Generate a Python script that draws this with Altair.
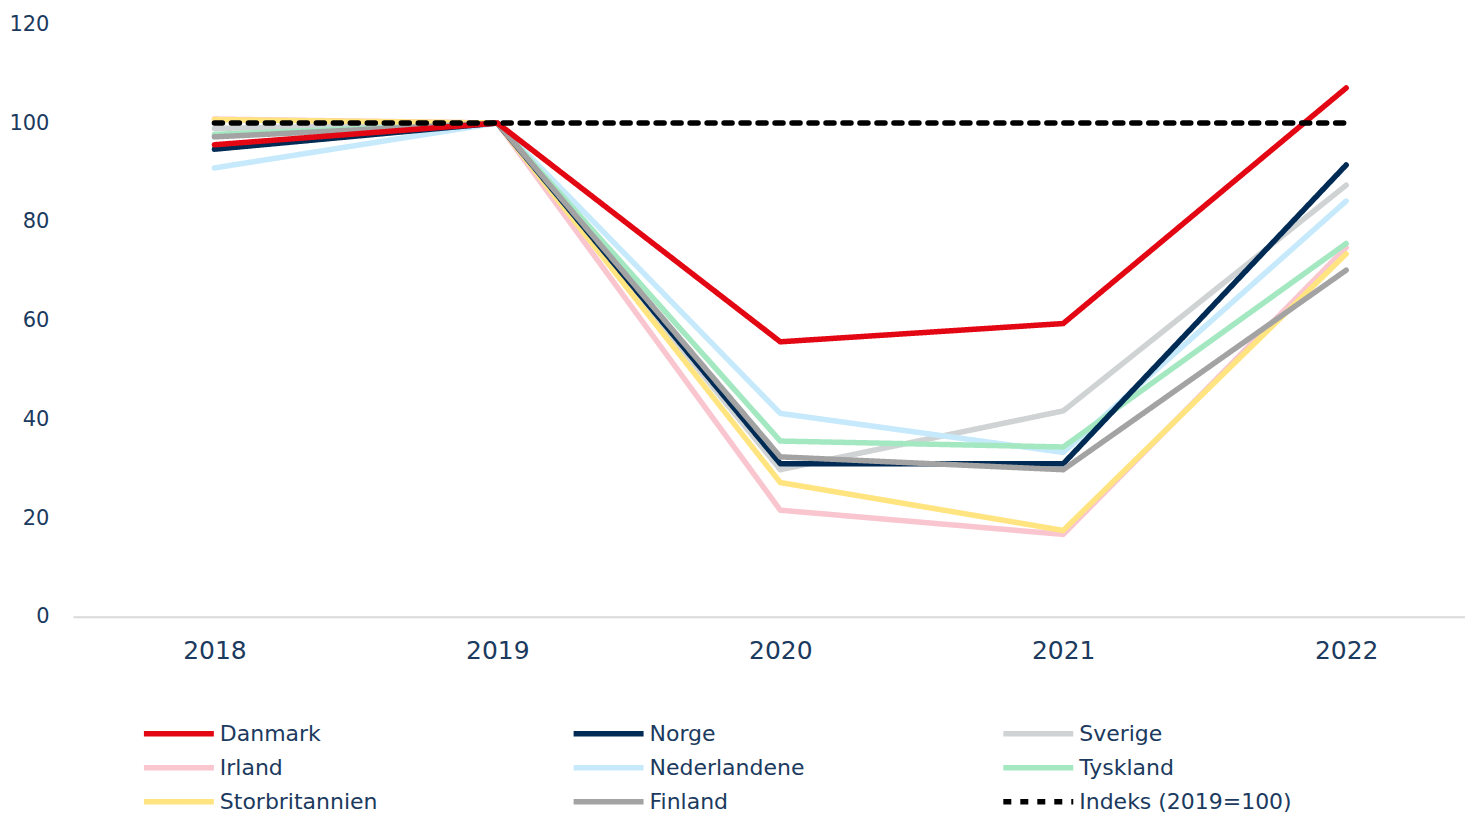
import altair as alt
import pandas as pd

years = [2018, 2019, 2020, 2021, 2022]
# legend is laid out column by column: this order gives rows
# Danmark/Norge/Sverige, Irland/Nederlandene/Tyskland, Storbritannien/Finland/Indeks
countries = ["Danmark", "Irland", "Storbritannien", "Norge", "Nederlandene",
             "Finland", "Sverige", "Tyskland", "Indeks (2019=100)"]
colors = ["#e30613", "#f9c6cf", "#ffe480", "#002b55", "#c6eafb",
          "#a3a3a3", "#d0d3d4", "#a4e8c2", "#000000"]
draw_order = ["Sverige", "Irland", "Nederlandene", "Tyskland", "Storbritannien",
              "Norge", "Finland", "Danmark", "Indeks (2019=100)"]

danmark = [95.6, 100, 55.7, 59.4, 107.1]
norge = [94.7, 100, 31.0, 31.0, 91.5]
sverige = [98.9, 100, 29.8, 41.7, 87.4]
irland = [100.8, 100, 21.6, 16.7, 74.8]
nederlandene = [90.9, 100, 41.2, 33.3, 84.2]
tyskland = [97.7, 100, 35.6, 34.4, 75.6]
storbritannien = [100.7, 100, 27.2, 17.5, 73.5]
finland = [97.2, 100, 32.4, 29.8, 70.2]
indeks = [100, 100, 100, 100, 100]

series = {
    "Danmark": danmark, "Norge": norge, "Sverige": sverige, "Irland": irland,
    "Nederlandene": nederlandene, "Tyskland": tyskland,
    "Storbritannien": storbritannien, "Finland": finland,
    "Indeks (2019=100)": indeks,
}

rows = []
for name in draw_order:
    for y, v in zip(years, series[name]):
        rows.append({"Land": name, "År": y, "Indeks": v, "ord": draw_order.index(name)})
df = pd.DataFrame(rows)

font = "DejaVu Sans"
txt = "#1b3a5e"

dash_range = [[1, 0] if c != "Indeks (2019=100)" else [8, 9] for c in countries]
width_range = [5.5 if c != "Indeks (2019=100)" else 2.5 for c in countries]

chart = alt.Chart(df).mark_line(strokeCap="round", strokeJoin="round").encode(
    x=alt.X("År:Q",
            scale=alt.Scale(domain=[2017.5, 2022.42], nice=False, zero=False),
            axis=alt.Axis(values=years, format="d", title=None, grid=False,
                          ticks=False, labelPadding=22, labelFontSize=25,
                          labelColor=txt, labelFont=font, domainColor="#d9d9d9",
                          domainWidth=2)),
    y=alt.Y("Indeks:Q",
            scale=alt.Scale(domain=[0, 120], nice=False),
            axis=alt.Axis(values=[0, 20, 40, 60, 80, 100, 120], title=None,
                          grid=False, ticks=False, domain=False, labelPadding=24,
                          labelFontSize=21, labelColor=txt, labelFont=font,
                          minExtent=64, maxExtent=64)),
    color=alt.Color("Land:N", scale=alt.Scale(domain=countries, range=colors),
                    sort=countries,
                    legend=alt.Legend(title=None, orient="none", legendX=95,
                                      legendY=699, columns=3, gridAlign="all",
                                      columnPadding=130, rowPadding=12,
                                      symbolType="M-10,0H10", symbolSize=49,
                                      labelFontSize=22,
                                      labelFont=font, labelColor=txt,
                                      labelOffset=30, labelLimit=400, padding=0)),
    strokeDash=alt.StrokeDash("Land:N", scale=alt.Scale(domain=countries, range=dash_range),
                              sort=countries),
    strokeWidth=alt.StrokeWidth("Land:N", scale=alt.Scale(domain=countries, range=width_range),
                                sort=countries),
    detail="Land:N",
    order=alt.Order("ord:Q"),
).properties(
    width=1393, height=593,
    padding={"left": 0, "top": 5, "right": 0, "bottom": 0},
).configure_view(stroke=None)

chart.save("out.html", embed_options={"renderer": "svg", "actions": False})
